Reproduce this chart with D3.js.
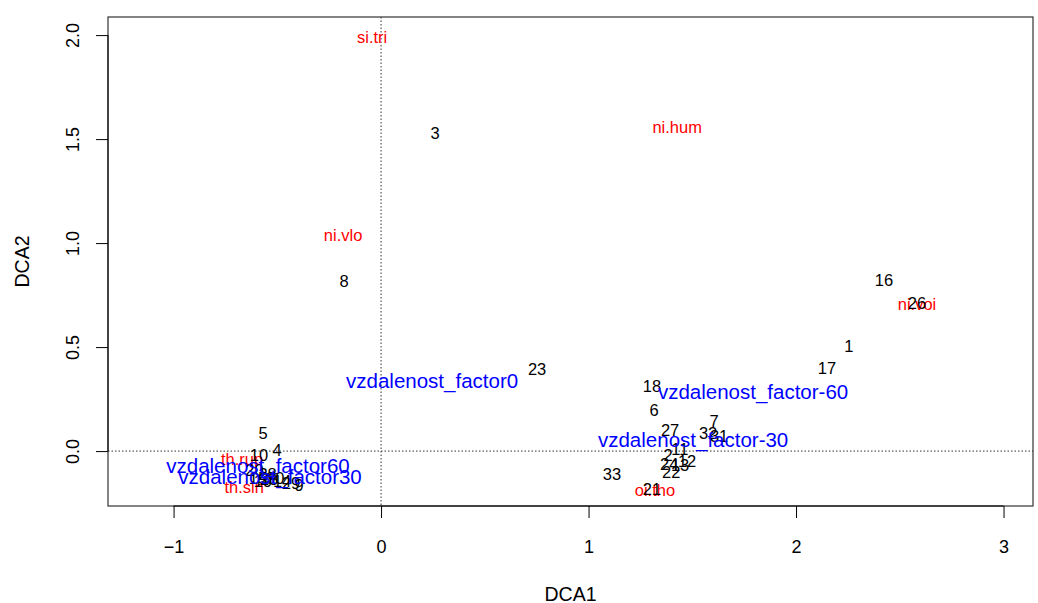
<!DOCTYPE html>
<html>
<head>
<meta charset="utf-8">
<script src="https://cdn.jsdelivr.net/npm/d3@7"></script>
<style>
    body { margin: 0; background: #fff; }
    svg text { font-family: "Liberation Sans", Arial, sans-serif; }
</style>
</head>
<body>
<svg id="dca" width="1038" height="603"></svg>
<script>
// site scores (black numbers)
const siteLabels = ["1","2","3","4","5","6","7","8","9","10","11","12","13","14","15","16","17",
    "18","19","20","21","22","23","24","25","26","27","28","29","30","31","32","33"];
const siteX = [2.255, 1.383, 0.26, -0.501, -0.569, 1.316, 1.605, -0.178, -0.395, -0.588, 1.44, 1.475,
    1.441, -0.477, -0.593, 2.424, 2.149, 1.306, -0.569, -0.61, 1.306, 1.398, 0.752, 1.389, -0.54,
    2.583, 1.393, -0.547, -0.434, -0.51, 1.629, 1.576, 1.113];
const siteY = [0.505, -0.019, 1.53, 0.005, 0.087, 0.197, 0.144, 0.817, -0.163, -0.019, 0.01, -0.048,
    -0.067, -0.144, -0.13, 0.822, 0.399, 0.3125, -0.144, -0.091, -0.183, -0.101, 0.394, -0.06, -0.135,
    0.712, 0.101, -0.111, -0.154, -0.13, 0.072, 0.087, -0.111];

// species scores (red)
const specLabels = ["si.tri", "ni.hum", "ni.vlo", "ni.voi", "th.rup", "th.sin", "oi.tho"];
const specX = [-0.043, 1.427, -0.183, 2.583, -0.67, -0.66, 1.32];
const specY = [1.99, 1.558, 1.038, 0.707, -0.038, -0.173, -0.1875];

// factor centroids (blue)
const factLabels = ["vzdalenost_factor0", "vzdalenost_factor-60", "vzdalenost_factor-30",
    "vzdalenost_factor60", "vzdalenost_factor30"];
const factX = [0.246, 1.793, 1.504, -0.593, -0.535];
const factY = [0.337, 0.288, 0.053, -0.072, -0.125];

const xTicks = [-1, 0, 1, 2, 3];
const yTicks = [0, 0.5, 1, 1.5, 2];

const svg = d3.select("#dca");
const plotL = 108, plotR = 1033, plotT = 17, plotB = 506;

const x = d3.scaleLinear().domain([-1.316, 3.142]).range([plotL, plotR]);
const y = d3.scaleLinear().domain([-0.264, 2.087]).range([plotB, plotT]);

// dotted zero lines
svg.append("line")
    .attr("x1", plotL).attr("x2", plotR)
    .attr("y1", y(0)).attr("y2", y(0))
    .attr("stroke", "#333").attr("stroke-dasharray", "1.5,2");
svg.append("line")
    .attr("x1", x(0)).attr("x2", x(0))
    .attr("y1", plotT).attr("y2", plotB)
    .attr("stroke", "#333").attr("stroke-dasharray", "1.5,2");

// labels: species first, then sites, factors on top
function drawLabels(labels, xs, ys, color, size) {
    svg.append("g").selectAll("text")
        .data(labels)
        .join("text")
        .attr("x", (d, i) => x(xs[i]))
        .attr("y", (d, i) => y(ys[i]))
        .attr("dy", "0.36em")
        .attr("text-anchor", "middle")
        .attr("font-size", size)
        .attr("fill", color)
        .text(d => d);
}
drawLabels(specLabels, specX, specY, "#ff0000", 16.5);
drawLabels(siteLabels, siteX, siteY, "#000", 16.5);
drawLabels(factLabels, factX, factY, "#0000ff", 20.5);

// box
svg.append("rect")
    .attr("x", plotL).attr("y", plotT)
    .attr("width", plotR - plotL).attr("height", plotB - plotT)
    .attr("fill", "none").attr("stroke", "#333").attr("stroke-width", 1.2);

// axes (R style)
const xAxis = d3.axisBottom(x).tickValues(xTicks).tickSize(12).tickPadding(22)
    .tickFormat(d3.format("d"));
const gx = svg.append("g").attr("transform", "translate(0," + plotB + ")").call(xAxis);

const yAxis = d3.axisLeft(y).tickValues(yTicks).tickSize(12).tickFormat(d3.format(".1f"));
const gy = svg.append("g").attr("transform", "translate(" + plotL + ",0)").call(yAxis);

[gx, gy].forEach(g => {
    g.selectAll("path").attr("stroke", "#000");
    g.selectAll("line").attr("stroke", "#000");
    g.selectAll("text").attr("font-size", 18).attr("fill", "#000")
        .style("font-family", "'Liberation Sans', Arial, sans-serif");
});
// axis line only spans the ticks, like R
gx.select("path").attr("d", "M" + x(-1) + ",0H" + x(3));
gy.select("path").attr("d", "M0," + y(0) + "V" + y(2));

// rotated y tick labels
gy.selectAll(".tick text")
    .attr("x", 0).attr("dy", 0)
    .attr("text-anchor", "middle")
    .attr("transform", "translate(-29,0) rotate(-90)");

// axis titles
svg.append("text")
    .attr("x", (plotL + plotR) / 2).attr("y", 594)
    .attr("dy", "0.36em")
    .attr("text-anchor", "middle").attr("font-size", 19.5)
    .text("DCA1");
svg.append("text")
    .attr("transform", "translate(22," + (plotT + plotB) / 2 + ") rotate(-90)")
    .attr("dy", "0.36em")
    .attr("text-anchor", "middle").attr("font-size", 19.5)
    .text("DCA2");
</script>
</body>
</html>
